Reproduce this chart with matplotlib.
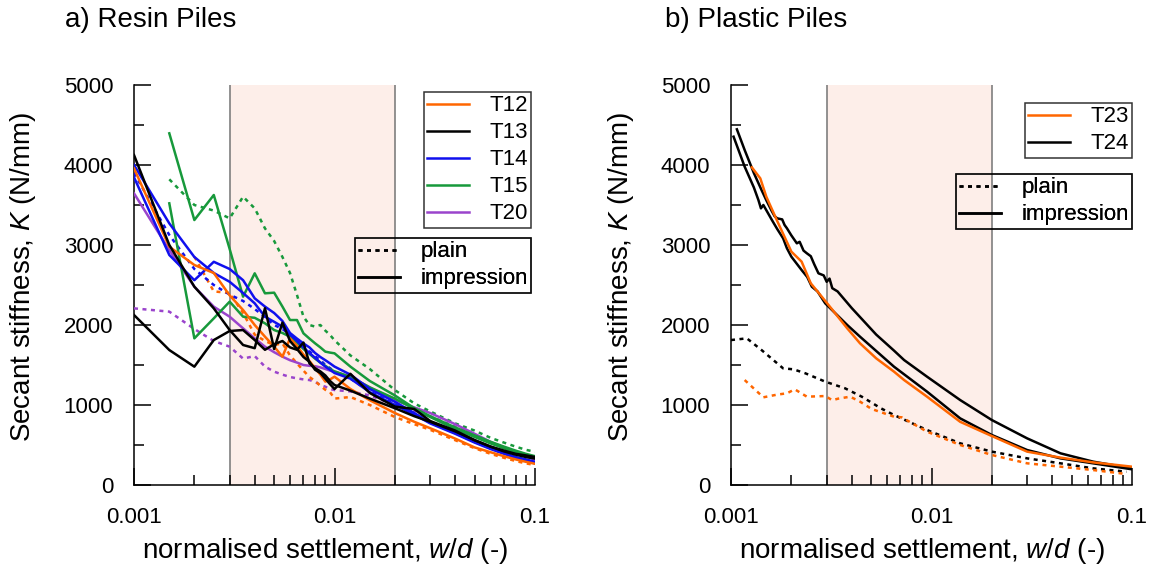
import numpy as np
import matplotlib
matplotlib.use("Agg")
import matplotlib.pyplot as plt
from matplotlib.ticker import FixedLocator, LogLocator, FixedFormatter, MultipleLocator, NullFormatter
from matplotlib.lines import Line2D

plt.rcParams['font.family'] = ['Liberation Sans', 'DejaVu Sans']
plt.rcParams['mathtext.fontset'] = 'custom'
plt.rcParams['mathtext.rm'] = 'Liberation Sans'
plt.rcParams['mathtext.it'] = 'Liberation Sans:italic'

# ---------------- data: a) resin piles ----------------
xl = [0.001, 0.0015, 0.002, 0.0025, 0.003, 0.0035, 0.004, 0.0045, 0.005, 0.0055,
      0.006, 0.0065, 0.007, 0.0075, 0.008, 0.0085, 0.009, 0.0095, 0.01, 0.012,
      0.015, 0.02, 0.025, 0.03, 0.04, 0.05, 0.06, 0.07, 0.08, 0.09, 0.1]
nan = np.nan
t12_imp = [3958, 2979, 2750, 2650, 2370, 2187, 2000, 1854, 1730, 1604,
           1833, 1740, 1630, 1550, 1460, 1380, 1292, 1320, 1354, 1200,
           1060, 900, 790, 710, 580, 470, 410, 360, 320, 290, 265]
t12_pl = [nan, nan, 2854, 2420, 2400, 2150, 1880, 1800, 1750, 1770,
          1620, 1520, 1430, 1350, 1300, 1240, 1190, 1160, 1080, 1100,
          1000, 850, 760, 690, 560, 460, 390, 340, 300, 270, 250]
t13_imp_a = [4125, 3000, 2479, 2208, 1937, 1750, 1710, 2210, 1700, 2030,
             1800, 1700, 1600, 1540, 1440, 1400, 1330, 1260, 1200, 1390,
             1150, 980, 950, 800, 680, 560, 480, 430, 390, 370, 350]
t13_imp_b = [2125, 1687, 1479, 1812, 1925, 1937, 1812, 1690, 1760, 1800,
             1720, 1690, 1780, 1520, 1460, 1420, 1370, 1300, 1250, 1180,
             1080, 960, 860, 790, 670, 560, 480, 420, 380, 350, 330]
t14_imp_a = [3846, 2875, 2560, 2790, 2700, 2560, 2333, 2230, 2150, 2050,
             1900, 1830, 1770, 1720, 1650, 1600, 1560, 1520, 1480, 1380,
             1200, 1040, 900, 780, 650, 540, 460, 400, 350, 320, 290]
t14_imp_b = [4000, 3270, 2850, 2650, 2540, 2400, 2271, 2104, 2040, 1979,
             1880, 1800, 1720, 1650, 1590, 1530, 1480, 1440, 1400, 1330,
             1160, 1000, 880, 770, 640, 530, 450, 390, 340, 300, 270]
t14_pl = [3900, 3125, 2700, 2500, 2380, 2300, 2200, 2100, 2000, 1950,
          1880, 1810, 1740, 1670, 1610, 1560, 1500, 1460, 1420, 1330,
          1170, 1010, 890, 780, 650, 540, 460, 400, 350, 310, 280]
t15_imp_a = [nan, 4396, 3312, 3625, 2950, 2354, 2646, 2396, 2404, 2230,
             2062, 2062, 1896, 1830, 1771, 1720, 1667, 1655, 1646, 1480,
             1300, 1120, 960, 860, 720, 620, 540, 480, 430, 390, 360]
t15_imp_b = [nan, 3521, 1833, 2083, 2292, 2104, 2090, 2021, 1937, 1900,
             1854, 1780, 1700, 1640, 1580, 1530, 1490, 1450, 1420, 1350,
             1220, 1080, 950, 850, 700, 600, 520, 460, 410, 380, 350]
t15_pl = [nan, 3821, 3500, 3430, 3333, 3604, 3458, 3208, 3050, 2850,
          2650, 2375, 2104, 2000, 1980, 2000, 1930, 1875, 1810, 1620,
          1450, 1187, 1020, 920, 770, 680, 590, 530, 480, 440, 415]
t20_imp = [3646, 2937, 2479, 2229, 2104, 1958, 1833, 1729, 1660, 1604,
           1560, 1530, 1500, 1490, 1485, 1470, 1450, 1430, 1417, 1354,
           1220, 1062, 970, 900, 760, 640, 540, 470, 410, 360, 320]
t20_pl = [2208, 2167, 1950, 1800, 1729, 1580, 1612, 1480, 1417, 1380,
          1350, 1333, 1320, 1312, 1290, 1250, 1229, 1200, 1187, 1170,
          1120, 1000, 930, 860, 730, 620, 530, 460, 400, 360, 320]

# ---------------- data: b) plastic piles ----------------
t23_imp_x = [0.00127, 0.0014, 0.0015, 0.0017, 0.002, 0.00225, 0.0025, 0.003, 0.0038,
             0.0044, 0.0053, 0.0065, 0.0073, 0.0095, 0.0139, 0.02, 0.03,
             0.044, 0.064, 0.1]
t23_imp = [3971, 3833, 3604, 3300, 2917, 2792, 2521, 2279, 1958,
           1771, 1583, 1417, 1312, 1104, 790, 612, 417,
           342, 283, 229]
t24_imp_hi_x = [0.00107, 0.00117, 0.0013, 0.00142, 0.0015, 0.0016, 0.00165, 0.0017,
                0.0018, 0.00185, 0.0019, 0.002, 0.00213, 0.0022, 0.0023, 0.00239,
                0.0025, 0.0026, 0.00273, 0.0029, 0.003, 0.0031, 0.0032, 0.0034,
                0.004, 0.0053, 0.0065, 0.0073, 0.0095, 0.0139, 0.02, 0.03, 0.044,
                0.064, 0.1]
t24_imp_hi = [4446, 4187, 3900, 3687, 3560, 3420, 3360, 3333,
              3320, 3250, 3210, 3120, 3021, 3040, 2930, 2896,
              2860, 2760, 2646, 2620, 2540, 2580, 2460, 2420,
              2212, 1880, 1680, 1562, 1354, 1062, 812, 583, 396,
              292, 208]
t24_imp_lo_x = [0.00103, 0.00117, 0.0013, 0.00137, 0.00141, 0.00145, 0.0016, 0.0017,
                0.00182, 0.0019, 0.002, 0.00225, 0.0024, 0.00253, 0.0027, 0.00295,
                0.0038, 0.0044, 0.0065, 0.0095, 0.0139, 0.02, 0.03, 0.044, 0.064, 0.1]
t24_imp_lo = [4354, 3979, 3720, 3562, 3458, 3500, 3312, 3200,
              3083, 2960, 2854, 2687, 2600, 2479, 2420, 2271,
              2000, 1854, 1479, 1167, 833, 625, 437, 333, 271, 196]
t23_pl_x = [0.00117, 0.00145, 0.0017, 0.0019, 0.00208, 0.00239, 0.00295, 0.0032,
            0.00342, 0.00393, 0.0044, 0.00503, 0.0065, 0.0071, 0.0095, 0.0139,
            0.02, 0.03, 0.044, 0.064, 0.094]
t23_pl = [1312, 1096, 1130, 1146, 1196, 1104, 1112, 1060,
          1079, 1104, 1042, 950, 854, 846, 667, 500,
          375, 271, 229, 187, 137]
t24_pl_x = [0.001, 0.0012, 0.00142, 0.00182, 0.00205, 0.00235, 0.00295, 0.00371,
            0.00449, 0.0056, 0.0065, 0.0095, 0.0139, 0.02, 0.03, 0.044, 0.064, 0.094]
t24_pl = [1812, 1833, 1687, 1458, 1446, 1396, 1292, 1208,
          1104, 958, 875, 687, 521, 417, 333, 271, 208, 166]

x_ticks = [0.001, 0.01, 0.1]
x_ticklabels = ['0.001', '0.01', '0.1']
y_ticks = [0, 1000, 2000, 3000, 4000, 5000]
zone = (0.003, 0.02)

ORANGE = '#ff6600'
BLACK = '#000000'
BLUE = '#1010ee'
GREEN = '#17993b'
PURPLE = '#9a44cc'
DOT = (0, (1.6, 1.8))
LW = 1.8

fig = plt.figure(figsize=(11.55, 5.78), dpi=100)
axL = fig.add_axes([134/1155, 93/578, 401/1155, 400/578])
axR = fig.add_axes([731/1155, 93/578, 401/1155, 400/578])


def style_axis(ax, ylab_x):
    ax.set_xscale('log')
    ax.set_xlim(0.001, 0.1)
    ax.set_ylim(0, 5000)
    ax.axvspan(zone[0], zone[1], color='#fdeee9', zorder=0, lw=0)
    for v in zone:
        ax.axvline(v, color='#7f7f7f', lw=1.2, zorder=1)
    for s in ['top', 'right']:
        ax.spines[s].set_visible(False)
    for s in ['left', 'bottom']:
        ax.spines[s].set_linewidth(1.1)
    ax.xaxis.set_major_locator(FixedLocator(x_ticks))
    ax.xaxis.set_major_formatter(FixedFormatter(x_ticklabels))
    ax.xaxis.set_minor_locator(LogLocator(base=10, subs=np.arange(2, 10)))
    ax.xaxis.set_minor_formatter(NullFormatter())
    ax.yaxis.set_major_locator(FixedLocator(y_ticks))
    ax.yaxis.set_minor_locator(MultipleLocator(500))
    ax.tick_params(which='both', direction='in', top=False, right=False, width=1.1, colors='black')
    ax.tick_params(which='major', length=12.5, labelsize=16)
    ax.tick_params(which='minor', length=7.5)
    ax.tick_params(axis='y', which='major', pad=15)
    ax.tick_params(axis='x', which='major', pad=16)
    ax.set_ylabel('Secant stiffness, $K$ (N/mm)', fontsize=20, va='center')
    ax.yaxis.set_label_coords(ylab_x, 0.521)
    ax.set_xlabel('normalised settlement, $w/d$ (-)', fontsize=20, va='center')
    ax.xaxis.set_label_coords(0.476, -0.165)


style_axis(axL, -0.277)
style_axis(axR, -0.274)

# ---- a) curves
axL.plot(xl, t20_pl, color=PURPLE, lw=LW, ls=DOT, zorder=3)
axL.plot(xl, t12_pl, color=ORANGE, lw=LW, ls=DOT, zorder=3)
axL.plot(xl, t14_pl, color=BLUE, lw=LW, ls=DOT, zorder=3)
axL.plot(xl, t15_pl, color=GREEN, lw=LW, ls=DOT, zorder=3)
axL.plot(xl, t20_imp, color=PURPLE, lw=LW, zorder=3)
axL.plot(xl, t15_imp_a, color=GREEN, lw=LW, zorder=3)
axL.plot(xl, t15_imp_b, color=GREEN, lw=LW, zorder=3)
axL.plot(xl, t14_imp_a, color=BLUE, lw=LW, zorder=3)
axL.plot(xl, t14_imp_b, color=BLUE, lw=LW, zorder=3)
axL.plot(xl, t12_imp, color=ORANGE, lw=LW, zorder=4)
axL.plot(xl, t13_imp_a, color=BLACK, lw=LW, zorder=4)
axL.plot(xl, t13_imp_b, color=BLACK, lw=LW, zorder=4)

# ---- b) curves
axR.plot(t24_pl_x, t24_pl, color=BLACK, lw=LW, ls=DOT, zorder=3)
axR.plot(t23_pl_x, t23_pl, color=ORANGE, lw=LW, ls=DOT, zorder=3)
axR.plot(t24_imp_lo_x, t24_imp_lo, color=BLACK, lw=LW, zorder=3)
axR.plot(t24_imp_hi_x, t24_imp_hi, color=BLACK, lw=LW, zorder=3)
axR.plot(t23_imp_x, t23_imp, color=ORANGE, lw=LW, zorder=4)


def make_legend(ax, handles, labels, anchor):
    leg = ax.legend(handles, labels, loc='upper right', bbox_to_anchor=anchor,
                    fontsize=16, handlelength=1.9, handletextpad=0.9,
                    labelspacing=0.27, borderpad=0.15, borderaxespad=0.0,
                    fancybox=False, frameon=True, edgecolor='black')
    leg.get_frame().set_facecolor('none')
    leg.get_frame().set_linewidth(1.1)
    leg.set_zorder(6)
    ax.add_artist(leg)
    return leg


def h(c, ls='-'):
    return Line2D([], [], color=c, lw=LW, ls=ls)


make_legend(axL, [h(ORANGE), h(BLACK), h(BLUE), h(GREEN), h(PURPLE)],
            ['T12', 'T13', 'T14', 'T15', 'T20'], (0.990, 0.9825))
make_legend(axL, [h(BLACK, DOT), h(BLACK)], ['plain', 'impression'], (0.990, 0.6175))
make_legend(axR, [h(ORANGE), h(BLACK)], ['T23', 'T24'], (1.0, 0.955))
make_legend(axR, [h(BLACK, DOT), h(BLACK)], ['plain', 'impression'], (1.0, 0.7775))

fig.text(65/1155, 1 - 20/578, 'a) Resin Piles', fontsize=20, ha='left', va='center')
fig.text(665/1155, 1 - 20/578, 'b) Plastic Piles', fontsize=20, ha='left', va='center')

fig.savefig('out.png', dpi=100)
